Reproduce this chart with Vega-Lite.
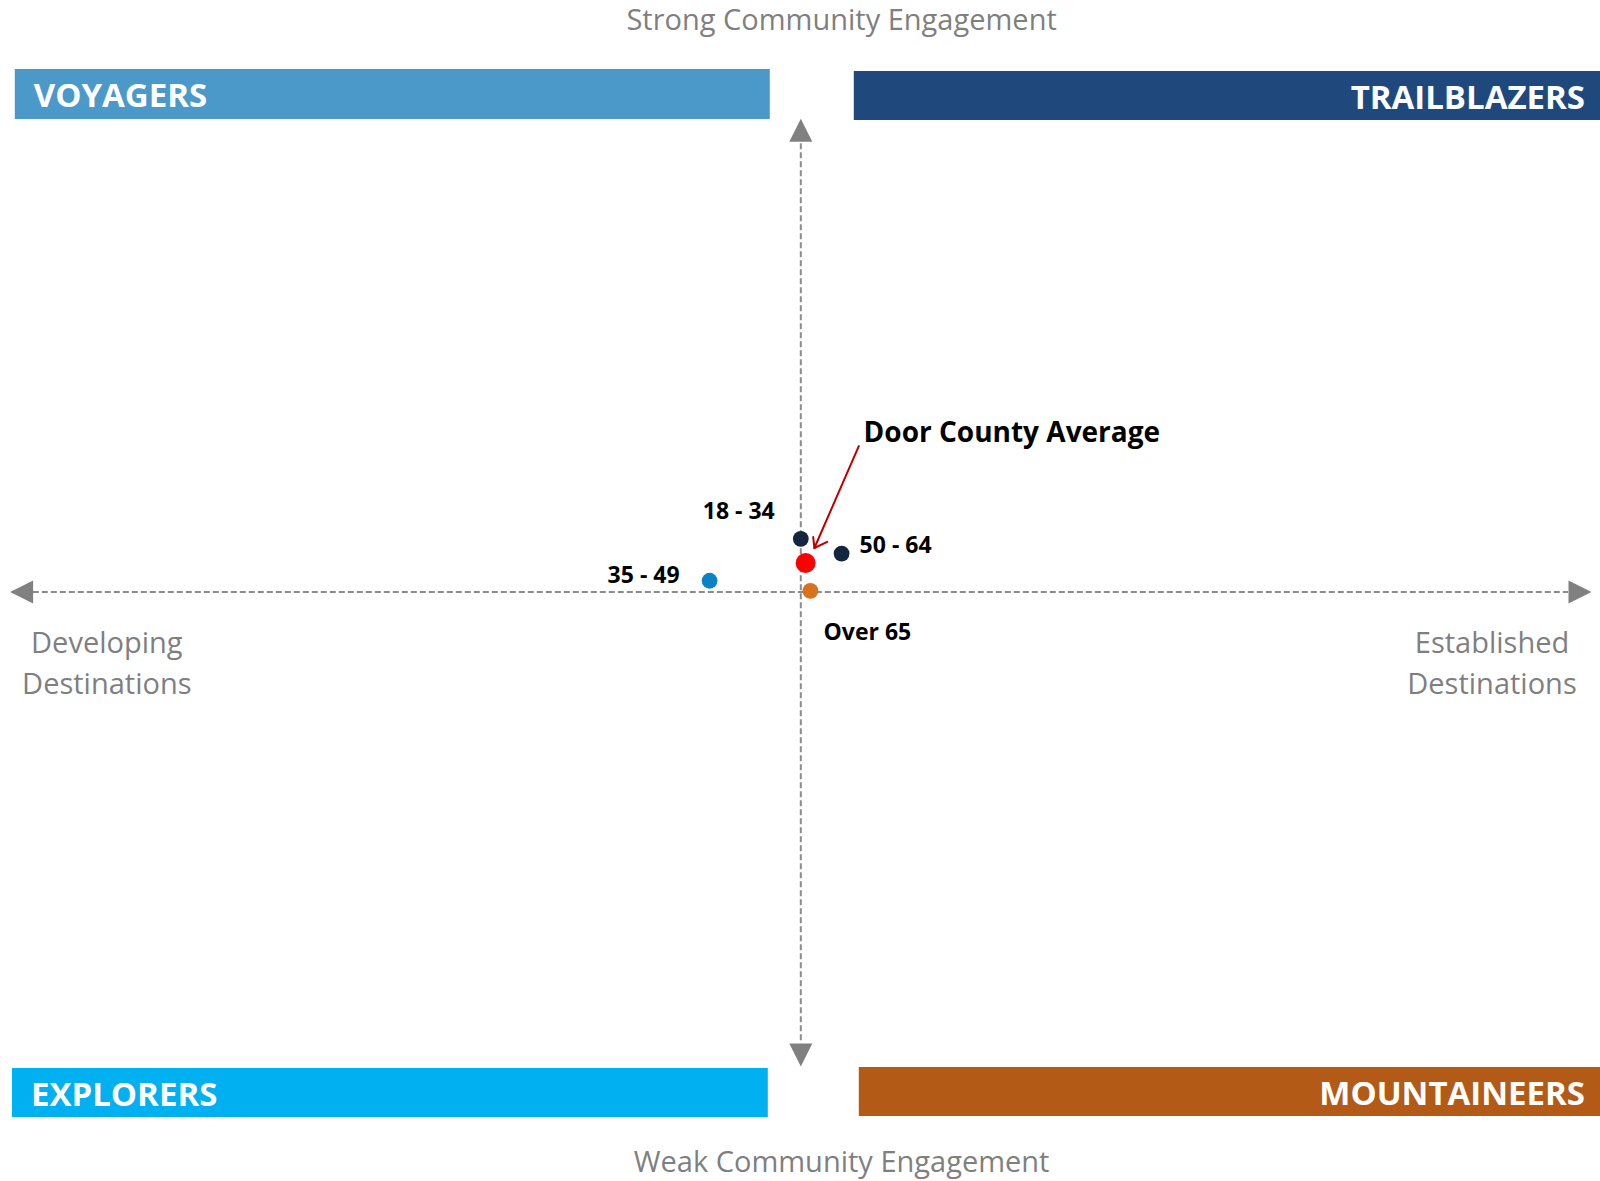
{
  "$schema": "https://vega.github.io/schema/vega-lite/v6.json",
  "width": 1600,
  "height": 1181,
  "autosize": {"type": "fit", "contains": "padding"},
  "padding": 0,
  "background": "white",
  "config": {"view": {"stroke": null}},
  "datasets": {
    "segments": [
      {"segment": "18 - 34", "x": 0.0, "y": 9.0},
      {"segment": "35 - 49", "x": -11.4, "y": 1.9},
      {"segment": "50 - 64", "x": 5.1, "y": 6.5},
      {"segment": "Over 65", "x": 1.2, "y": 0.2},
      {"segment": "Door County Average", "x": 0.6, "y": 4.9}
    ],
    "quadrants": [
      {"name": "VOYAGERS", "x": -98.25, "x2": -3.875, "y": 88.57, "y2": 80.1},
      {"name": "TRAILBLAZERS", "x": 6.625, "x2": 99.9, "y": 88.23, "y2": 79.93},
      {"name": "EXPLORERS", "x": -98.6, "x2": -4.125, "y": -80.6, "y2": -88.9},
      {"name": "MOUNTAINEERS", "x": 7.25, "x2": 99.9, "y": -80.44, "y2": -88.74}
    ],
    "axes": [
      {"x": -96.0, "x2": 95.9, "y": 0, "y2": 0},
      {"x": 0, "x2": 0, "y": 76.0, "y2": -76.4}
    ],
    "arrowheads": [
      {"dir": "left", "x": -97.4, "y": 0},
      {"dir": "right", "x": 97.4, "y": 0},
      {"dir": "up", "x": 0, "y": 78.2},
      {"dir": "down", "x": 0, "y": -78.4}
    ],
    "captions": [
      {"text": "Strong Community Engagement", "x": 5.1, "y": 96.7},
      {"text": "Weak Community Engagement", "x": 5.1, "y": -96.7},
      {"text": "Developing\nDestinations", "x": -86.75, "y": -8.8},
      {"text": "Established\nDestinations", "x": 86.4, "y": -8.8}
    ],
    "pointer": [
      {"x": 7.25, "y": 24.7, "x2": 1.7, "y2": 7.45},
      {"x": 1.7, "y": 7.45, "x2": 3.3, "y2": 8.5},
      {"x": 1.7, "y": 7.45, "x2": 1.55, "y2": 9.3}
    ]
  },
  "encoding": {
    "x": {"field": "x", "type": "quantitative", "axis": null, "scale": {"domain": [-100.1, 99.9], "nice": false, "zero": false}},
    "y": {"field": "y", "type": "quantitative", "axis": null, "scale": {"domain": [-99.75, 100.25], "nice": false, "zero": false}}
  },
  "resolve": {"scale": {"color": "independent", "shape": "independent"}},
  "layer": [
    {
      "data": {"name": "quadrants"},
      "mark": {"type": "rect"},
      "encoding": {
        "x2": {"field": "x2"},
        "y2": {"field": "y2"},
        "color": {"field": "name", "type": "nominal", "legend": null,
          "scale": {"domain": ["VOYAGERS", "TRAILBLAZERS", "EXPLORERS", "MOUNTAINEERS"], "range": ["#4a99c9", "#1f497d", "#00b0f0", "#b35a16"]}}
      }
    },
    {
      "data": {"name": "quadrants"},
      "transform": [{"filter": "datum.x < 0"}],
      "mark": {"type": "text", "align": "left", "baseline": "middle", "dx": 19, "dy": 28, "font": "Open Sans", "fontSize": 33, "fontWeight": "bold", "color": "white"},
      "encoding": {"text": {"field": "name"}}
    },
    {
      "data": {"name": "quadrants"},
      "transform": [{"filter": "datum.x >= 0"}],
      "mark": {"type": "text", "align": "right", "baseline": "middle", "dx": -15, "dy": 28, "font": "Open Sans", "fontSize": 33, "fontWeight": "bold", "color": "white"},
      "encoding": {"x": {"field": "x2", "type": "quantitative"}, "text": {"field": "name"}}
    },
    {
      "data": {"name": "axes"},
      "mark": {"type": "rule", "color": "#8c8c8c", "strokeWidth": 2, "strokeDash": [6, 3]},
      "encoding": {"x2": {"field": "x2"}, "y2": {"field": "y2"}}
    },
    {
      "data": {"name": "arrowheads"},
      "mark": {"type": "point", "filled": true, "size": 529, "opacity": 1, "color": "#808080", "strokeWidth": 0},
      "encoding": {
        "shape": {"field": "dir", "type": "nominal", "legend": null,
          "scale": {"domain": ["left", "right", "up", "down"], "range": ["M-1,0L1,-1L1,1Z", "M1,0L-1,-1L-1,1Z", "M0,-1L1,1L-1,1Z", "M0,1L1,-1L-1,-1Z"]}}
      }
    },
    {
      "data": {"name": "captions"},
      "mark": {"type": "text", "align": "center", "baseline": "middle", "lineBreak": "\n", "lineHeight": 41, "font": "Open Sans", "fontSize": 29, "color": "#7f7f7f"},
      "encoding": {"text": {"field": "text"}}
    },
    {
      "data": {"name": "pointer"},
      "mark": {"type": "rule", "color": "#c00000", "strokeWidth": 2, "strokeCap": "round"},
      "encoding": {"x2": {"field": "x2"}, "y2": {"field": "y2"}}
    },
    {
      "data": {"name": "segments"},
      "transform": [{"filter": "datum.segment !== 'Door County Average'"}],
      "mark": {"type": "circle", "size": 250, "opacity": 1},
      "encoding": {
        "color": {"field": "segment", "type": "nominal", "legend": null,
          "scale": {"domain": ["18 - 34", "35 - 49", "50 - 64", "Over 65"], "range": ["#14253f", "#0a82c6", "#14253f", "#d9731b"]}}
      }
    },
    {
      "data": {"name": "segments"},
      "transform": [{"filter": "datum.segment === 'Door County Average'"}],
      "mark": {"type": "circle", "size": 400, "opacity": 1, "color": "#ff0000"}
    },
    {
      "data": {"name": "segments"},
      "transform": [{"filter": "datum.segment === '18 - 34'"}],
      "mark": {"type": "text", "align": "center", "baseline": "middle", "dx": -62, "dy": -27, "font": "Open Sans", "fontSize": 23, "fontWeight": "bold", "color": "#000000"},
      "encoding": {"text": {"field": "segment"}}
    },
    {
      "data": {"name": "segments"},
      "transform": [{"filter": "datum.segment === '50 - 64'"}],
      "mark": {"type": "text", "align": "left", "baseline": "middle", "dx": 18, "dy": -8, "font": "Open Sans", "fontSize": 23, "fontWeight": "bold", "color": "#000000"},
      "encoding": {"text": {"field": "segment"}}
    },
    {
      "data": {"name": "segments"},
      "transform": [{"filter": "datum.segment === '35 - 49'"}],
      "mark": {"type": "text", "align": "center", "baseline": "middle", "dx": -66, "dy": -5, "font": "Open Sans", "fontSize": 23, "fontWeight": "bold", "color": "#000000"},
      "encoding": {"text": {"field": "segment"}}
    },
    {
      "data": {"name": "segments"},
      "transform": [{"filter": "datum.segment === 'Over 65'"}],
      "mark": {"type": "text", "align": "center", "baseline": "middle", "dx": 57, "dy": 42, "font": "Open Sans", "fontSize": 23, "fontWeight": "bold", "color": "#000000"},
      "encoding": {"text": {"field": "segment"}}
    },
    {
      "data": {"name": "segments"},
      "transform": [{"filter": "datum.segment === 'Door County Average'"}],
      "mark": {"type": "text", "align": "left", "baseline": "middle", "dx": 58, "dy": -129, "font": "Open Sans", "fontSize": 28, "fontWeight": "bold", "color": "#000000"},
      "encoding": {"text": {"field": "segment"}}
    }
  ]
}
